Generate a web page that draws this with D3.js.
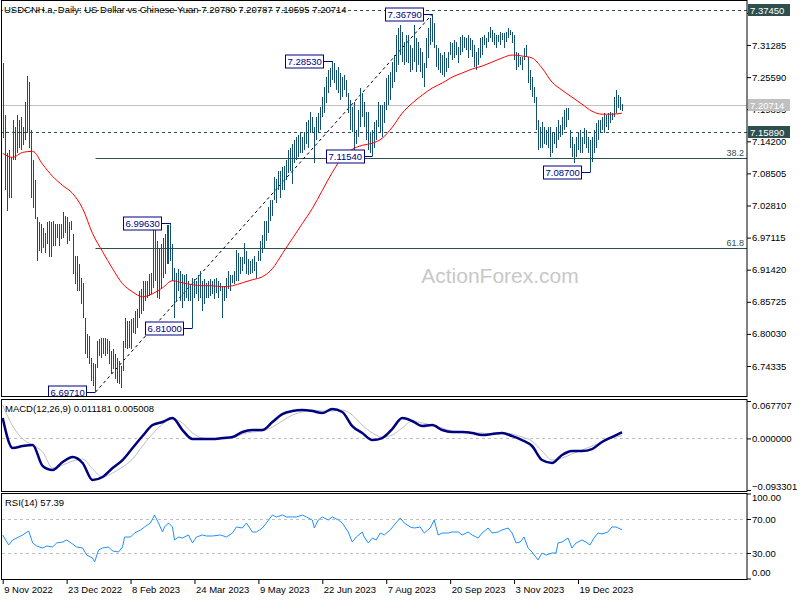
<!DOCTYPE html>
<html>
<head>
<meta charset="utf-8">
<script src="https://cdn.jsdelivr.net/npm/d3@7"></script>
<style>
  body { margin: 0; background: #fff; }
  svg { display: block; font-family: "Liberation Sans", Arial, sans-serif; }
</style>
</head>
<body>
<script>
// Daily bars, one high / low per trading day (9 Nov 2022 onwards)
var highs = [
  7.281, 7.188, 7.121, 7.126, 7.114, 7.179, 7.167, 7.188, 7.179, 7.185,
  7.167, 7.211, 7.258, 7.247, 7.162, 7.108, 7.073, 7.007, 6.998, 6.996,
  6.989, 6.980, 6.998, 7.001, 6.998, 7.001, 6.996, 6.996, 6.996, 6.996,
  7.016, 7.010, 7.007, 6.998, 7.001, 6.978, 6.939, 6.939, 6.925, 6.900,
  6.891, 6.829, 6.800, 6.797, 6.758, 6.749, 6.747, 6.788, 6.791, 6.793,
  6.793, 6.793, 6.791, 6.788, 6.770, 6.774, 6.765, 6.758, 6.752, 6.743,
  6.788, 6.829, 6.823, 6.823, 6.827, 6.829, 6.841, 6.845, 6.877, 6.880,
  6.895, 6.895, 6.895, 6.907, 6.909, 6.989, 6.989, 6.966, 6.952, 6.960,
  6.971, 6.978, 6.994, 6.993, 6.9963, 6.960, 6.918, 6.909, 6.916, 6.912,
  6.907, 6.904, 6.907, 6.895, 6.889, 6.900, 6.898, 6.895, 6.904, 6.912,
  6.895, 6.898, 6.891, 6.895, 6.898, 6.895, 6.898, 6.900, 6.895, 6.891,
  6.886, 6.886, 6.900, 6.912, 6.904, 6.904, 6.912, 6.950, 6.943, 6.936,
  6.936, 6.962, 6.948, 6.934, 6.930, 6.934, 6.939, 6.927, 6.948, 6.966,
  6.975, 7.001, 7.001, 7.025, 7.037, 7.037, 7.078, 7.076, 7.090, 7.090,
  7.096, 7.099, 7.108, 7.126, 7.131, 7.138, 7.144, 7.149, 7.153, 7.156,
  7.149, 7.158, 7.176, 7.179, 7.194, 7.185, 7.167, 7.185, 7.192, 7.203,
  7.220, 7.238, 7.256, 7.268, 7.272, 7.2853, 7.281, 7.268, 7.274, 7.263,
  7.256, 7.259, 7.251, 7.227, 7.215, 7.203, 7.211, 7.162, 7.197, 7.236,
  7.227, 7.211, 7.194, 7.194, 7.158, 7.162, 7.176, 7.179, 7.211, 7.206,
  7.206, 7.211, 7.254, 7.259, 7.265, 7.283, 7.295, 7.331, 7.343, 7.348,
  7.336, 7.318, 7.331, 7.331, 7.313, 7.308, 7.348, 7.325, 7.318, 7.308,
  7.300, 7.281, 7.325, 7.343, 7.361, 7.3679, 7.352, 7.313, 7.308, 7.299,
  7.295, 7.300, 7.290, 7.300, 7.318, 7.316, 7.322, 7.318, 7.309, 7.327,
  7.331, 7.327, 7.325, 7.331, 7.325, 7.322, 7.313, 7.300, 7.308, 7.325,
  7.327, 7.331, 7.325, 7.336, 7.345, 7.340, 7.334, 7.331, 7.331, 7.336,
  7.334, 7.334, 7.336, 7.343, 7.340, 7.336, 7.331, 7.300, 7.299, 7.292,
  7.292, 7.308, 7.313, 7.292, 7.268, 7.256, 7.238, 7.220, 7.179, 7.167,
  7.176, 7.167, 7.162, 7.167, 7.167, 7.156, 7.156, 7.167, 7.179, 7.171,
  7.185, 7.197, 7.201, 7.201, 7.162, 7.149, 7.138, 7.149, 7.156, 7.162,
  7.149, 7.165, 7.162, 7.149, 7.144, 7.149, 7.162, 7.174, 7.179, 7.179,
  7.185, 7.192, 7.188, 7.192, 7.194, 7.192, 7.220, 7.233, 7.224, 7.220,
  7.20787
];
var lows = [
  7.147, 7.055, 7.019, 7.042, 7.042, 7.108, 7.108, 7.122, 7.131, 7.126,
  7.135, 7.144, 7.156, 7.131, 7.042, 7.023, 7.005, 6.930, 6.948, 6.943,
  6.953, 6.943, 6.960, 6.936, 6.936, 6.957, 6.957, 6.971, 6.957, 6.969,
  6.971, 6.980, 6.960, 6.966, 6.984, 6.907, 6.889, 6.877, 6.877, 6.854,
  6.829, 6.765, 6.758, 6.747, 6.717, 6.708, 6.6971, 6.740, 6.761, 6.758,
  6.765, 6.761, 6.765, 6.747, 6.729, 6.738, 6.720, 6.713, 6.711, 6.704,
  6.734, 6.775, 6.774, 6.775, 6.774, 6.802, 6.800, 6.811, 6.829, 6.836,
  6.841, 6.859, 6.864, 6.868, 6.871, 6.882, 6.895, 6.864, 6.863, 6.882,
  6.900, 6.907, 6.925, 6.925, 6.930, 6.895, 6.829, 6.859, 6.877, 6.859,
  6.847, 6.859, 6.864, 6.859, 6.859, 6.8100, 6.864, 6.871, 6.859, 6.864,
  6.841, 6.854, 6.864, 6.864, 6.868, 6.871, 6.863, 6.873, 6.864, 6.877,
  6.829, 6.859, 6.864, 6.880, 6.877, 6.891, 6.889, 6.895, 6.895, 6.907,
  6.912, 6.925, 6.907, 6.904, 6.907, 6.909, 6.912, 6.900, 6.930, 6.930,
  6.943, 6.952, 6.966, 6.980, 7.001, 7.010, 7.037, 7.032, 7.055, 7.042,
  7.055, 7.055, 7.073, 7.085, 7.090, 7.067, 7.103, 7.108, 7.114, 7.121,
  7.121, 7.126, 7.138, 7.131, 7.156, 7.156, 7.103, 7.144, 7.156, 7.162,
  7.185, 7.192, 7.210, 7.227, 7.238, 7.251, 7.245, 7.233, 7.227, 7.215,
  7.220, 7.233, 7.220, 7.192, 7.162, 7.158, 7.126, 7.138, 7.149, 7.167,
  7.185, 7.167, 7.144, 7.126, 7.121, 7.1154, 7.131, 7.144, 7.167, 7.156,
  7.149, 7.174, 7.197, 7.206, 7.215, 7.236, 7.247, 7.265, 7.277, 7.295,
  7.283, 7.277, 7.283, 7.281, 7.265, 7.268, 7.283, 7.265, 7.277, 7.265,
  7.254, 7.238, 7.272, 7.290, 7.313, 7.318, 7.308, 7.274, 7.268, 7.263,
  7.259, 7.256, 7.265, 7.272, 7.295, 7.286, 7.290, 7.295, 7.281, 7.295,
  7.300, 7.308, 7.304, 7.290, 7.304, 7.292, 7.274, 7.268, 7.277, 7.290,
  7.295, 7.313, 7.308, 7.318, 7.325, 7.318, 7.313, 7.308, 7.318, 7.313,
  7.322, 7.308, 7.318, 7.325, 7.331, 7.316, 7.286, 7.268, 7.274, 7.277,
  7.268, 7.286, 7.292, 7.245, 7.233, 7.220, 7.210, 7.162, 7.126, 7.131,
  7.131, 7.138, 7.135, 7.131, 7.114, 7.122, 7.138, 7.131, 7.144, 7.149,
  7.153, 7.162, 7.167, 7.179, 7.131, 7.114, 7.103, 7.114, 7.126, 7.121,
  7.122, 7.138, 7.131, 7.122, 7.0870, 7.105, 7.121, 7.131, 7.144, 7.156,
  7.162, 7.156, 7.167, 7.162, 7.174, 7.179, 7.185, 7.192, 7.201, 7.197,
  7.19595
];

// moving average, read every 5 bars (last one at the final bar)
var maValues = [
  7.1207, 7.1135, 7.1224, 7.1242, 7.1011, 7.0797, 7.0637, 7.0495, 7.0228, 6.9783,
  6.9462, 6.9160, 6.8893, 6.8750, 6.8661, 6.8715, 6.8821, 6.8946, 6.8910, 6.8875,
  6.8857, 6.8857, 6.8839, 6.8857, 6.8910, 6.8964, 6.9017, 6.9160, 6.9427, 6.9694,
  6.9961, 7.0228, 7.0548, 7.0868, 7.1135, 7.1278, 7.1349, 7.1385, 7.1474, 7.1669,
  7.1919, 7.2097, 7.2239, 7.2364, 7.2453, 7.2559, 7.2631, 7.2702, 7.2755, 7.2826,
  7.2898, 7.2951, 7.2933, 7.2898, 7.2720, 7.2470, 7.2328, 7.2203, 7.2079, 7.1954,
  7.1901, 7.1901, 7.1919
];

// MACD(12,26,9): main and signal, read every 5 bars
var macdMain = [
  0.0369, -0.0174, -0.0137, -0.0119, -0.0499, -0.0572, -0.0427, -0.0336, -0.0445, -0.0753,
  -0.0698, -0.0535, -0.0391, -0.0174, 0.0043, 0.0242, 0.0297, 0.0369, 0.0152, -0.0011,
  -0.0011, -0.0011, 0.0007, 0.0025, 0.0116, 0.0152, 0.0152, 0.0297, 0.0441, 0.0496,
  0.0514, 0.0496, 0.0459, 0.0532, 0.0478, 0.0224, 0.0098, -0.0029, 0.0007, 0.0170,
  0.0369, 0.0315, 0.0224, 0.0242, 0.0152, 0.0116, 0.0116, 0.0098, 0.0062, 0.0080,
  0.0098, 0.0043, -0.0029, -0.0137, -0.0391, -0.0445, -0.0300, -0.0228, -0.0228, -0.0192,
  -0.0065, 0.0025, 0.011181
];
var macdSignal = [
  0.0604, 0.0224, -0.0011, -0.0119, -0.0246, -0.0535, -0.0481, -0.0409, -0.0373, -0.0553,
  -0.0698, -0.0626, -0.0517, -0.0373, -0.0137, 0.0080, 0.0260, 0.0351, 0.0279, 0.0098,
  0.0007, -0.0011, -0.0011, 0.0007, 0.0080, 0.0116, 0.0134, 0.0206, 0.0315, 0.0423,
  0.0478, 0.0514, 0.0496, 0.0496, 0.0514, 0.0423, 0.0242, 0.0098, 0.0025, 0.0062,
  0.0188, 0.0315, 0.0279, 0.0242, 0.0188, 0.0134, 0.0116, 0.0098, 0.0098, 0.0080,
  0.0098, 0.0080, 0.0025, -0.0047, -0.0228, -0.0391, -0.0355, -0.0282, -0.0210, -0.0137,
  -0.0065, 0.0007, 0.005008
];

// RSI(14): [bar, value]
var rsiPoints = [
  [0,51.2],[3,39.4],[5,45.3],[8,48.8],[10,51.2],[13,55.9],[15,41.8],[17,38.2],[20,35.9],[22,38.2],
  [25,37.1],[27,41.8],[30,42.9],[32,45.3],[35,40.6],[37,37.1],[40,35.9],[42,27.6],[45,24.1],[46,19.4],
  [48,33.5],[50,35.9],[53,37.1],[55,32.4],[58,31.2],[60,37.1],[61,48.8],[64,48.8],[66,53.5],[69,57.1],
  [71,60.6],[74,65.3],[76,74.7],[78,65.3],[80,54.7],[81,60.6],[83,65.3],[85,60.6],[86,45.3],[88,48.8],
  [90,47.6],[93,51.2],[95,41.8],[97,48.8],[100,51.2],[102,50.0],[105,50.0],[109,51.2],[112,48.8],[115,53.5],
  [117,60.6],[120,59.4],[122,65.3],[125,54.7],[127,54.7],[130,59.4],[132,65.3],[135,74.7],[137,72.4],[140,74.7],
  [142,72.4],[145,72.4],[147,72.4],[150,74.7],[152,72.4],[155,68.8],[156,59.4],[158,68.8],[160,72.4],[163,68.8],
  [165,72.4],[168,68.8],[170,65.3],[173,54.7],[175,42.9],[177,48.8],[180,54.7],[181,48.8],[183,41.8],[185,47.6],
  [187,45.3],[189,53.5],[191,51.2],[194,57.1],[196,62.9],[199,71.2],[201,65.3],[204,60.6],[206,59.4],[209,60.6],
  [211,53.5],[214,59.4],[216,68.8],[218,51.2],[220,53.5],[223,53.5],[225,54.7],[228,54.7],[230,51.2],[233,54.7],
  [235,51.2],[238,47.6],[240,53.5],[243,59.4],[245,53.5],[248,54.7],[250,57.1],[253,59.4],[255,53.5],[257,41.8],
  [259,42.9],[261,48.8],[263,35.9],[265,31.2],[268,21.8],[270,30.0],[272,27.6],[275,30.0],[277,30.0],[278,41.8],
  [280,42.9],[283,47.6],[285,35.9],[287,41.8],[290,45.3],[292,42.9],[294,39.4],[296,47.6],[298,53.5],[300,52.4],
  [303,54.7],[305,60.6],[307,60.6],[310,57.39]
];

// labelled swing points
var swingBars   = [46, 95, 84, 165, 185, 215, 294];
var swingPrices = [6.6971, 6.8100, 6.9963, 7.2853, 7.1154, 7.3679, 7.0870];

// fibonacci from the low to the high
var fibAnchorBars   = [46, 215];
var fibAnchorPrices = [6.6971, 7.3679];
var fibLevels = [38.2, 61.8];

var levelLines = [7.37450, 7.15890];
var lastPrice = 7.20714;

var priceTicks = [6.74335, 6.80030, 6.85725, 6.91420, 6.97115, 7.02810,
                  7.08505, 7.14200, 7.19895, 7.25590, 7.31285, 7.36980];
var macdTicks = [0.067707, 0, -0.093301];
var rsiTicks = [100, 70, 30, 0];
var rsiLevels = [70, 30];

var xTickBars = [0, 32, 64, 96, 128, 160, 192, 224, 256, 288];
var xTickLabels = ["9 Nov 2022", "23 Dec 2022", "8 Feb 2023", "24 Mar 2023", "9 May 2023",
                   "22 Jun 2023", "7 Aug 2023", "20 Sep 2023", "3 Nov 2023", "19 Dec 2023"];

var titleText = "USDCNH.a, Daily:  US Dollar vs Chinese Yuan  7.20780 7.20787 7.19595 7.20714";

var barColor = "#15506e";
var slate = "#2f4f4f";
var navy = "#000080";
var fs = "9.5px";

var svg = d3.select("body").append("svg")
  .attr("width", 800)
  .attr("height", 600);

var plotRight = 747;

// scales
var x = d3.scaleLinear().domain([0, 288]).range([2.7, 578]);
var yMain = d3.scaleLinear().domain([6.74335, 7.31285]).range([366, 45]);
var yMacd = d3.scaleLinear().domain([-0.093301, 0.067707]).range([490, 401]);
var yRsi = d3.scaleLinear().domain([0, 100]).range([578.5, 493.5]);

function px(i) { return Math.round(x(i)) + 0.5; }

svg.append("clipPath").attr("id", "clipMain")
  .append("rect").attr("x", 2).attr("y", 1).attr("width", plotRight - 2).attr("height", 395);

var main = svg.append("g").attr("clip-path", "url(#clipMain)");

// watermark
main.append("text")
  .attr("x", 500).attr("y", 283)
  .attr("text-anchor", "middle")
  .style("font-size", "21px")
  .style("fill", "#c8c8c8")
  .text("ActionForex.com");

// horizontal level lines
main.selectAll(".lvl")
  .data(levelLines)
  .enter().append("line")
  .attr("x1", 0).attr("x2", plotRight)
  .attr("y1", d => Math.round(yMain(d)) + 0.5)
  .attr("y2", d => Math.round(yMain(d)) + 0.5)
  .attr("stroke", slate)
  .attr("stroke-dasharray", "3,3");

main.append("line")
  .attr("x1", 0).attr("x2", plotRight)
  .attr("y1", Math.round(yMain(lastPrice)) + 0.5)
  .attr("y2", Math.round(yMain(lastPrice)) + 0.5)
  .attr("stroke", "#c0c0c0");

// fibonacci levels
var fibRange = fibAnchorPrices[1] - fibAnchorPrices[0];
fibLevels.forEach(function(f) {
  var yy = Math.round(yMain(fibAnchorPrices[1] - fibRange * f / 100)) + 0.5;
  main.append("line")
    .attr("x1", px(fibAnchorBars[0])).attr("x2", plotRight)
    .attr("y1", yy).attr("y2", yy)
    .attr("stroke", slate);
  main.append("text")
    .attr("x", plotRight - 3).attr("y", yy - 3)
    .attr("text-anchor", "end")
    .style("font-size", "9px")
    .style("fill", slate)
    .text(f.toFixed(1));
});

main.append("line")
  .attr("x1", px(fibAnchorBars[0])).attr("y1", yMain(fibAnchorPrices[0]))
  .attr("x2", px(fibAnchorBars[1])).attr("y2", yMain(fibAnchorPrices[1]))
  .attr("stroke", "#000")
  .attr("stroke-dasharray", "3,3");

// bars
main.selectAll(".bar")
  .data(highs)
  .enter().append("line")
  .attr("x1", (d, i) => px(i))
  .attr("x2", (d, i) => px(i))
  .attr("y1", d => yMain(d))
  .attr("y2", (d, i) => yMain(lows[i]))
  .attr("stroke", barColor)
  .attr("shape-rendering", "crispEdges");

// moving average
var sampleBars = d3.range(0, 306, 5).concat([310]);
main.append("path")
  .datum(maValues)
  .attr("fill", "none")
  .attr("stroke", "#ff0000")
  .attr("d", d3.line().x((d, i) => x(sampleBars[i])).y(d => yMain(d)).curve(d3.curveMonotoneX));

// swing labels
swingBars.forEach(function(b, k) {
  var bx = px(b);
  var by = Math.round(yMain(swingPrices[k])) + 0.5;
  var g = main.append("g");
  var t = g.append("text")
    .attr("y", by + 3.5)
    .style("font-size", fs)
    .style("fill", navy)
    .text(swingPrices[k].toFixed(5));
  var w = t.node().getComputedTextLength() + 4;
  var left = Math.round(bx - 9 - w) + 0.5;
  t.attr("x", left + 2);
  g.insert("rect", "text")
    .attr("x", left).attr("y", by - 6.5)
    .attr("width", Math.round(w)).attr("height", 13)
    .attr("fill", "#fff").attr("stroke", navy);
  g.append("line")
    .attr("x1", left + Math.round(w)).attr("x2", bx)
    .attr("y1", by).attr("y2", by)
    .attr("stroke", navy);
});

// title
svg.append("text")
  .attr("x", 4).attr("y", 13)
  .style("font-size", fs)
  .text(titleText);

// MACD panel
var macdG = svg.append("g");
macdG.append("line")
  .attr("x1", 2).attr("x2", plotRight)
  .attr("y1", Math.round(yMacd(0)) + 0.5).attr("y2", Math.round(yMacd(0)) + 0.5)
  .attr("stroke", "#c0c0c0").attr("stroke-dasharray", "3,3");
macdG.append("path")
  .datum(macdSignal)
  .attr("fill", "none").attr("stroke", "#c0c0c0").attr("stroke-width", 1)
  .attr("d", d3.line().x((d, i) => x(sampleBars[i])).y(d => yMacd(d)).curve(d3.curveMonotoneX));
macdG.append("path")
  .datum(macdMain)
  .attr("fill", "none").attr("stroke", navy).attr("stroke-width", 2.5)
  .attr("d", d3.line().x((d, i) => x(sampleBars[i])).y(d => yMacd(d)).curve(d3.curveMonotoneX));
macdG.append("text")
  .attr("x", 5).attr("y", 412)
  .style("font-size", fs)
  .text("MACD(12,26,9) 0.011181 0.005008");

// RSI panel
var rsiG = svg.append("g");
rsiG.selectAll(".rl")
  .data(rsiLevels)
  .enter().append("line")
  .attr("x1", 2).attr("x2", plotRight)
  .attr("y1", d => Math.round(yRsi(d)) + 0.5).attr("y2", d => Math.round(yRsi(d)) + 0.5)
  .attr("stroke", "#c0c0c0").attr("stroke-dasharray", "3,3");
rsiG.append("path")
  .datum(rsiPoints)
  .attr("fill", "none").attr("stroke", "#1e90ff").attr("stroke-width", 1)
  .attr("d", d3.line().x(d => x(d[0])).y(d => yRsi(d[1])));
rsiG.append("text")
  .attr("x", 5).attr("y", 506)
  .style("font-size", fs)
  .text("RSI(14) 57.39");

// panel frames
[[0.5, 396.5], [399.5, 491.5], [493.5, 579.5]].forEach(function(p) {
  svg.append("rect")
    .attr("x", 1.5).attr("y", p[0])
    .attr("width", plotRight - 1.5).attr("height", p[1] - p[0])
    .attr("fill", "none").attr("stroke", "#000");
});

// right axes
function styleAxis(g) {
  g.select(".domain").remove();
  g.selectAll("text").style("font-size", fs).style("fill", "#000").attr("x", 5);
  g.selectAll("line").attr("stroke", "#000");
}

svg.append("g")
  .attr("transform", "translate(" + plotRight + ",0)")
  .call(d3.axisRight(yMain).tickValues(priceTicks).tickSize(4).tickFormat(d3.format(".5f")))
  .call(styleAxis);

var macdAxis = svg.append("g")
  .attr("transform", "translate(" + plotRight + ",0)")
  .call(d3.axisRight(yMacd).tickValues(macdTicks).tickSize(4).tickFormat(d3.format(".6f")))
  .call(styleAxis);
macdAxis.selectAll("text").attr("y", d => d === macdTicks[0] ? 4 : (d === macdTicks[2] ? -4 : 0));

var rsiAxis = svg.append("g")
  .attr("transform", "translate(" + plotRight + ",0)")
  .call(d3.axisRight(yRsi).tickValues(rsiTicks).tickSize(4).tickFormat(d3.format(".2f")))
  .call(styleAxis);
rsiAxis.selectAll("text").attr("y", d => d === 100 ? 3.5 : (d === 0 ? -6 : 0));

// highlighted price labels on the right axis
var tagData = [[levelLines[0], slate], [lastPrice, "#c0c0c0"], [levelLines[1], slate]];
tagData.forEach(function(t) {
  var yy = Math.round(yMain(t[0]));
  svg.append("rect")
    .attr("x", 748).attr("y", yy - 6)
    .attr("width", 42).attr("height", 12)
    .attr("fill", t[1]);
  svg.append("text")
    .attr("x", 750).attr("y", yy + 3.5)
    .style("font-size", fs)
    .style("fill", "#fff")
    .text(t[0].toFixed(5));
});

// time axis
var xAxisG = svg.append("g")
  .attr("transform", "translate(0,580)")
  .call(d3.axisBottom(x).tickValues(xTickBars).tickSize(4).tickPadding(2)
    .tickFormat((d, i) => xTickLabels[i]));
xAxisG.select(".domain").remove();
xAxisG.selectAll("line").attr("stroke", "#000");
xAxisG.selectAll("text")
  .attr("text-anchor", "start")
  .attr("x", 1)
  .style("font-size", fs)
  .style("fill", "#000");
</script>
</body>
</html>
